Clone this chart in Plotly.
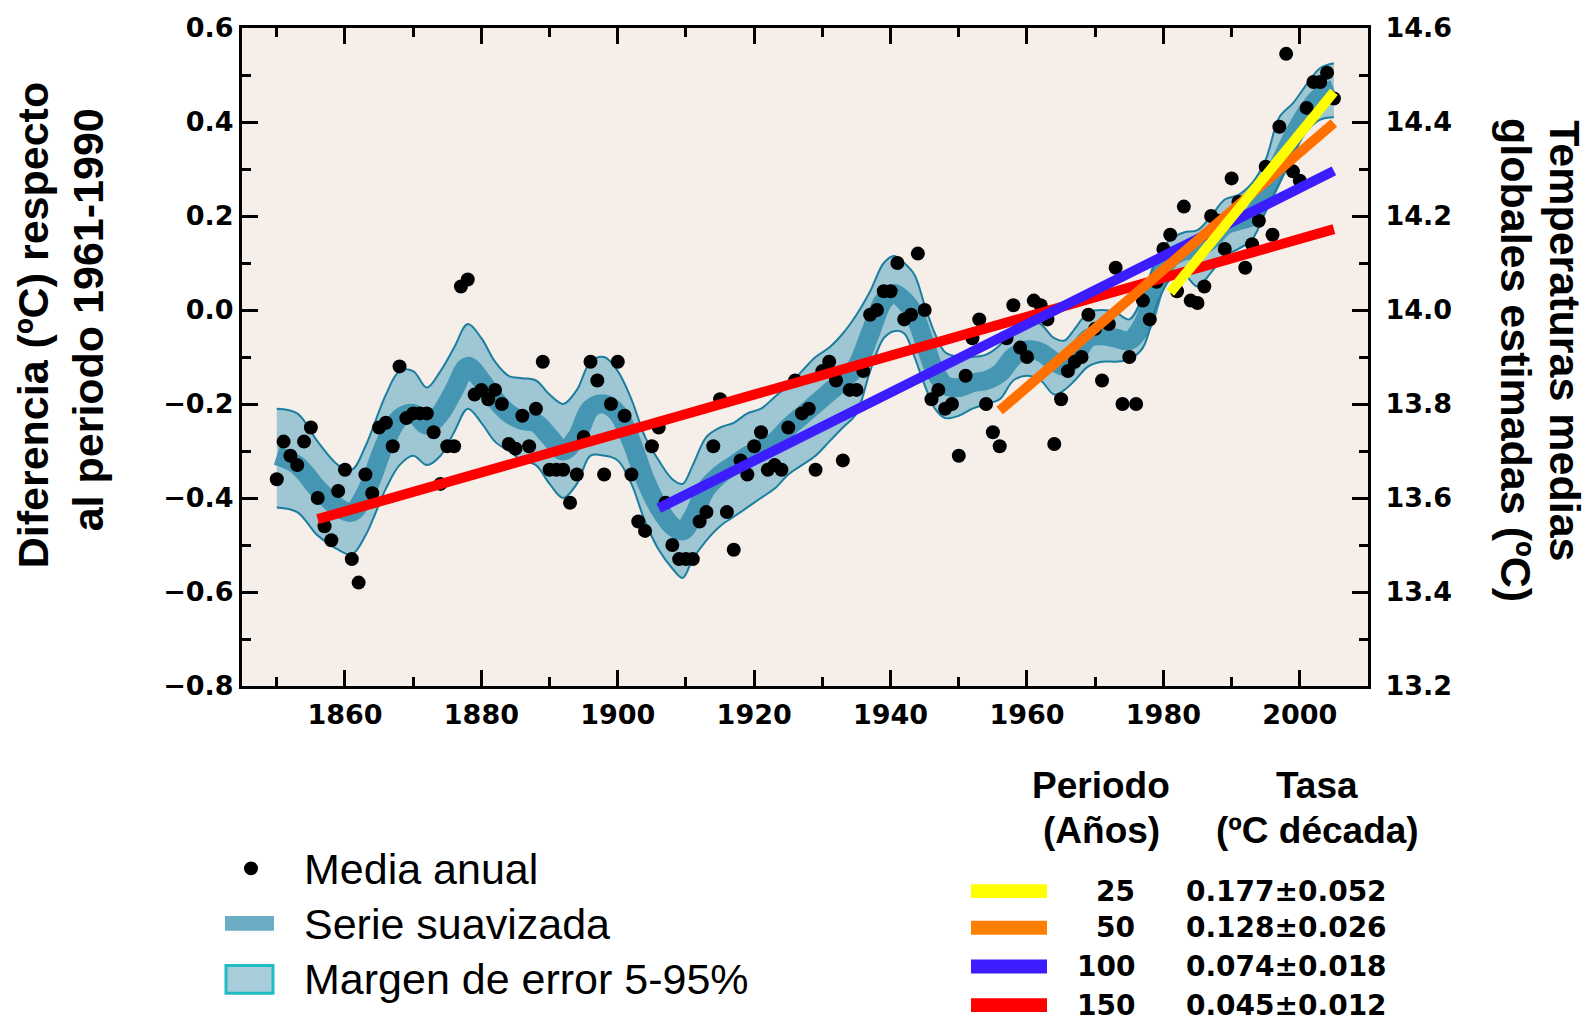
import plotly.graph_objects as go

# ---------------- data ----------------
years = list(range(1850, 2006))
anomaly = [
    -0.36, -0.28, -0.31, -0.33, -0.28, -0.25, -0.40, -0.46, -0.49, -0.385,
    -0.34, -0.53, -0.58, -0.35, -0.39, -0.25, -0.24, -0.29, -0.12, -0.23,
    -0.22, -0.22, -0.22, -0.26, -0.37, -0.29, -0.29, 0.05, 0.065, -0.18,
    -0.17, -0.19, -0.17, -0.20, -0.285, -0.295, -0.225, -0.29, -0.21, -0.11,
    -0.34, -0.34, -0.34, -0.41, -0.35, -0.27, -0.11, -0.15, -0.35, -0.20,
    -0.11, -0.225, -0.35, -0.45, -0.47, -0.29, -0.25, -0.41, -0.50, -0.53,
    -0.53, -0.53, -0.45, -0.43, -0.29, -0.19, -0.43, -0.51, -0.32, -0.35,
    -0.29, -0.26, -0.34, -0.33, -0.34, -0.25, -0.15, -0.22, -0.21, -0.34,
    -0.13, -0.11, -0.15, -0.32, -0.17, -0.17, -0.13, -0.01, 0.00, 0.04,
    0.04, 0.10, -0.02, -0.01, 0.12, 0.00, -0.19, -0.17, -0.21, -0.20,
    -0.31, -0.14, -0.06, -0.02, -0.20, -0.26, -0.29, -0.06, 0.01, -0.08,
    -0.10, 0.02, 0.01, -0.02, -0.285, -0.19, -0.13, -0.11, -0.10, -0.01,
    -0.04, -0.15, -0.03, 0.09, -0.20, -0.10, -0.20, 0.02, -0.02, 0.06,
    0.13, 0.16, 0.04, 0.22, 0.02, 0.015, 0.05, 0.20, 0.19, 0.13,
    0.28, 0.23, 0.09, 0.14, 0.19, 0.305, 0.16, 0.39, 0.545, 0.295,
    0.275, 0.43, 0.485, 0.485, 0.505, 0.45,
]

smooth_years = [1850, 1853, 1856, 1859, 1861, 1863, 1866, 1868, 1870, 1872,
                1874, 1876, 1878, 1880, 1882, 1884, 1886, 1888, 1890, 1892,
                1894, 1896, 1898, 1900, 1902, 1904, 1906, 1908, 1909.5, 1911,
                1913, 1915, 1917, 1919, 1921, 1923, 1925, 1927, 1929, 1931,
                1933, 1935, 1937, 1939, 1940.5, 1942, 1943.5, 1945, 1946.5, 1948,
                1950, 1952, 1954, 1956, 1958, 1960, 1962, 1964, 1965.5, 1967,
                1969, 1971, 1973, 1975, 1977, 1979, 1981, 1983, 1985, 1987,
                1989, 1991, 1993, 1995, 1997, 1999, 2001, 2003, 2005]
smooth_mid = [-0.31, -0.33, -0.38, -0.42, -0.43, -0.39, -0.28, -0.23, -0.22, -0.245,
              -0.22, -0.17, -0.12, -0.15, -0.19, -0.22, -0.235, -0.24, -0.27, -0.30,
              -0.27, -0.21, -0.20, -0.22, -0.28, -0.36, -0.42, -0.46, -0.47, -0.44,
              -0.38, -0.35, -0.33, -0.31, -0.295, -0.28, -0.25, -0.225, -0.20, -0.175,
              -0.15, -0.12, -0.05, 0.02, 0.035, 0.02, -0.01, -0.07, -0.13, -0.16,
              -0.165, -0.155, -0.15, -0.135, -0.10, -0.085, -0.09, -0.11, -0.12, -0.10,
              -0.06, -0.055, -0.06, -0.065, -0.03, 0.06, 0.11, 0.125, 0.13, 0.15,
              0.18, 0.19, 0.20, 0.25, 0.31, 0.37, 0.42, 0.455, 0.47]
err_low = [-0.42, -0.43, -0.48, -0.51, -0.52, -0.48, -0.38, -0.33, -0.31, -0.33,
           -0.31, -0.26, -0.21, -0.24, -0.28, -0.30, -0.32, -0.33, -0.37, -0.40,
           -0.37, -0.31, -0.31, -0.32, -0.37, -0.45, -0.51, -0.55, -0.57, -0.53,
           -0.49, -0.46, -0.44, -0.42, -0.40, -0.38, -0.35, -0.33, -0.31, -0.28,
           -0.25, -0.22, -0.13, -0.06, -0.045, -0.05, -0.10, -0.16, -0.21, -0.23,
           -0.225, -0.21, -0.20, -0.19, -0.15, -0.14, -0.15, -0.18, -0.17, -0.15,
           -0.12, -0.11, -0.11, -0.105, -0.08, 0.01, 0.065, 0.075, 0.05, 0.08,
           0.115, 0.13, 0.15, 0.21, 0.27, 0.33, 0.38, 0.405, 0.41]
err_high = [-0.21, -0.22, -0.28, -0.33, -0.34, -0.29, -0.18, -0.13, -0.13, -0.165,
            -0.13, -0.08, -0.03, -0.06, -0.11, -0.14, -0.145, -0.15, -0.18, -0.20,
            -0.17, -0.11, -0.10, -0.13, -0.19, -0.27, -0.32, -0.36, -0.37, -0.33,
            -0.27, -0.25, -0.24, -0.22, -0.21, -0.185, -0.16, -0.13, -0.10, -0.08,
            -0.05, -0.01, 0.04, 0.10, 0.115, 0.10, 0.075, 0.01, -0.05, -0.09,
            -0.10, -0.10, -0.095, -0.075, -0.04, -0.02, -0.03, -0.06, -0.065, -0.04,
            -0.005, 0.0, -0.005, -0.02, 0.03, 0.11, 0.15, 0.165, 0.17, 0.20,
            0.235, 0.245, 0.27, 0.32, 0.41, 0.44, 0.48, 0.515, 0.525]

trend_periods = ["25", "50", "100", "150"]
trend_rates = ["0.177±0.052", "0.128±0.026", "0.074±0.018", "0.045±0.012"]
trend_start_year = [1981, 1956, 1906, 1856]
trend_end_year = [2005, 2005, 2005, 2005]
trend_start_val = [0.037, -0.214, -0.422, -0.445]
trend_end_val = [0.464, 0.398, 0.296, 0.172]
trend_colors = ["#ffff00", "#ff7000", "#3b1dff", "#ff0000"]
legend_bar_colors = ["#ffff00", "#ff8000", "#3b1dff", "#ff0000"]

legend_labels = ["Media anual", "Serie suavizada", "Margen de error 5-95%"]

# ---------------- style / layout constants ----------------
W, H = 1591, 1024
PX_L, PX_R, PX_T, PX_B = 242, 1368, 22, 686


def px(x):
    return (x - PX_L) / (PX_R - PX_L)


def py(y):
    return (PX_B - y) / (PX_B - PX_T)


BG = "#f6eee9"
LIGHT = "#9fc7d3"
DARK = "#4596b3"
OUTLINE = "#1c7e9f"
TICKFONT = dict(family="DejaVu Sans", size=27, color="black", weight="bold")

fig = go.Figure()

# error band (5-95%)
fig.add_trace(go.Scatter(x=smooth_years, y=err_high, mode="lines",
                         line=dict(width=0, shape="spline", color=LIGHT),
                         hoverinfo="skip", showlegend=False))
fig.add_trace(go.Scatter(x=smooth_years, y=err_low, mode="lines",
                         line=dict(width=0, shape="spline", color=LIGHT),
                         fill="tonexty", fillcolor=LIGHT,
                         hoverinfo="skip", showlegend=False))
# smoothed series
fig.add_trace(go.Scatter(x=smooth_years, y=smooth_mid, mode="lines",
                         line=dict(width=19, shape="spline", color=DARK),
                         hoverinfo="skip", showlegend=False))
# outlines
for arr in (err_high, err_low):
    fig.add_trace(go.Scatter(x=smooth_years, y=arr, mode="lines",
                             line=dict(width=2, shape="spline", color=OUTLINE),
                             hoverinfo="skip", showlegend=False))
# annual means
fig.add_trace(go.Scatter(x=years, y=anomaly, mode="markers",
                         marker=dict(size=14, color="black"),
                         showlegend=False))
# trend lines (red at the bottom, yellow on top)
for i in reversed(range(len(trend_periods))):
    fig.add_trace(go.Scatter(x=[trend_start_year[i], trend_end_year[i]],
                             y=[trend_start_val[i], trend_end_val[i]],
                             mode="lines",
                             line=dict(width=10, color=trend_colors[i]),
                             showlegend=False))

# dummy trace for the right axis
fig.add_trace(go.Scatter(x=[1900], y=[14.0], yaxis="y2", mode="markers",
                         marker=dict(opacity=0), showlegend=False, hoverinfo="skip"))

axis_common = dict(showline=True, linewidth=3, linecolor="black", showgrid=False,
                   zeroline=False, ticks="inside", ticklen=16, tickwidth=3,
                   tickcolor="black", tickfont=TICKFONT)

fig.update_layout(
    width=W, height=H,
    margin=dict(l=PX_L, r=W - PX_R, t=PX_T, b=H - PX_B),
    paper_bgcolor="white", plot_bgcolor=BG,
    showlegend=False,
    xaxis=dict(range=[1844.9, 2010.0], tick0=1860, dtick=20, mirror="ticks",
               ticklabelstandoff=3,
               minor=dict(ticks="inside", ticklen=9, tickwidth=3, tickcolor="black",
                          tick0=1850, dtick=10),
               **axis_common),
    yaxis=dict(range=[-0.8, 0.6], tick0=0, dtick=0.2, tickformat=".1f", mirror=True,
               ticklabelstandoff=0,
               minor=dict(ticks="inside", ticklen=9, tickwidth=3, tickcolor="black",
                          tick0=0, dtick=0.1),
               **axis_common),
    yaxis2=dict(range=[13.2, 14.6], tick0=13.2, dtick=0.2, tickformat=".1f",
                overlaying="y", side="right", ticklabelstandoff=9,
                minor=dict(ticks="inside", ticklen=9, tickwidth=3, tickcolor="black",
                           tick0=13.2, dtick=0.1),
                **axis_common),
)

ann = []
TITLE_FONT = dict(family="Liberation Sans, Arial, sans-serif", size=43, color="black",
                  weight="bold")
ann.append(dict(text="Diferencia (ºC) respecto", x=px(33), y=py(322), textangle=-90,
                font=TITLE_FONT))
ann.append(dict(text="al periodo 1961-1990", x=px(88), y=py(317), textangle=-90,
                font=TITLE_FONT))
ann.append(dict(text="Temperaturas medias", x=px(1565), y=py(337), textangle=90,
                font=TITLE_FONT))
ann.append(dict(text="globales estimadas (ºC)", x=px(1516), y=py(357), textangle=90,
                font=TITLE_FONT))

# left legend
LEG_FONT = dict(family="Liberation Sans, Arial, sans-serif", size=43, color="black")
for lbl, yy in zip(legend_labels, [871, 926, 982]):
    ann.append(dict(text=lbl, x=px(303), y=py(yy), xanchor="left", yanchor="middle",
                    font=LEG_FONT))

shapes = []
shapes.append(dict(type="circle", xref="paper", yref="paper",
                   x0=px(244), x1=px(258), y0=py(877), y1=py(863),
                   fillcolor="black", line=dict(width=0)))
shapes.append(dict(type="rect", xref="paper", yref="paper",
                   x0=px(225), x1=px(274), y0=py(933), y1=py(918),
                   fillcolor="#6aadc5", line=dict(width=0)))
shapes.append(dict(type="rect", xref="paper", yref="paper",
                   x0=px(226), x1=px(273), y0=py(996), y1=py(968),
                   fillcolor="#a6cdd9", line=dict(width=3, color="#20bcc4")))

# right legend
HEAD_FONT = dict(family="Liberation Sans, Arial, sans-serif", size=37, color="black",
                 weight="bold")
ann.append(dict(text="Periodo", x=px(1101), y=py(786), font=HEAD_FONT))
ann.append(dict(text="(Años)", x=px(1101), y=py(832), font=HEAD_FONT))
ann.append(dict(text="Tasa", x=px(1317), y=py(786), font=HEAD_FONT))
ann.append(dict(text="(ºC década)", x=px(1317), y=py(832), font=HEAD_FONT))

NUM_FONT = dict(family="DejaVu Sans", size=28, color="black", weight="bold")
for i, yy in enumerate([893, 930, 969, 1008]):
    shapes.append(dict(type="rect", xref="paper", yref="paper",
                       x0=px(971), x1=px(1047), y0=py(yy + 7), y1=py(yy - 7),
                       fillcolor=legend_bar_colors[i], line=dict(width=0)))
    ann.append(dict(text=trend_periods[i], x=px(1136), y=py(yy), xanchor="right",
                    yanchor="middle", font=NUM_FONT))
    ann.append(dict(text=trend_rates[i], x=px(1185), y=py(yy), xanchor="left",
                    yanchor="middle", font=NUM_FONT))

for a in ann:
    a.setdefault("xref", "paper")
    a.setdefault("yref", "paper")
    a.setdefault("showarrow", False)
    a.setdefault("xanchor", "center")
    a.setdefault("yanchor", "middle")
    a.setdefault("borderpad", 0)

fig.update_layout(annotations=ann, shapes=shapes)

fig.write_html("out.html", config={"displayModeBar": False},
               post_script="document.body.style.margin='0';document.body.style.overflow='hidden';")
